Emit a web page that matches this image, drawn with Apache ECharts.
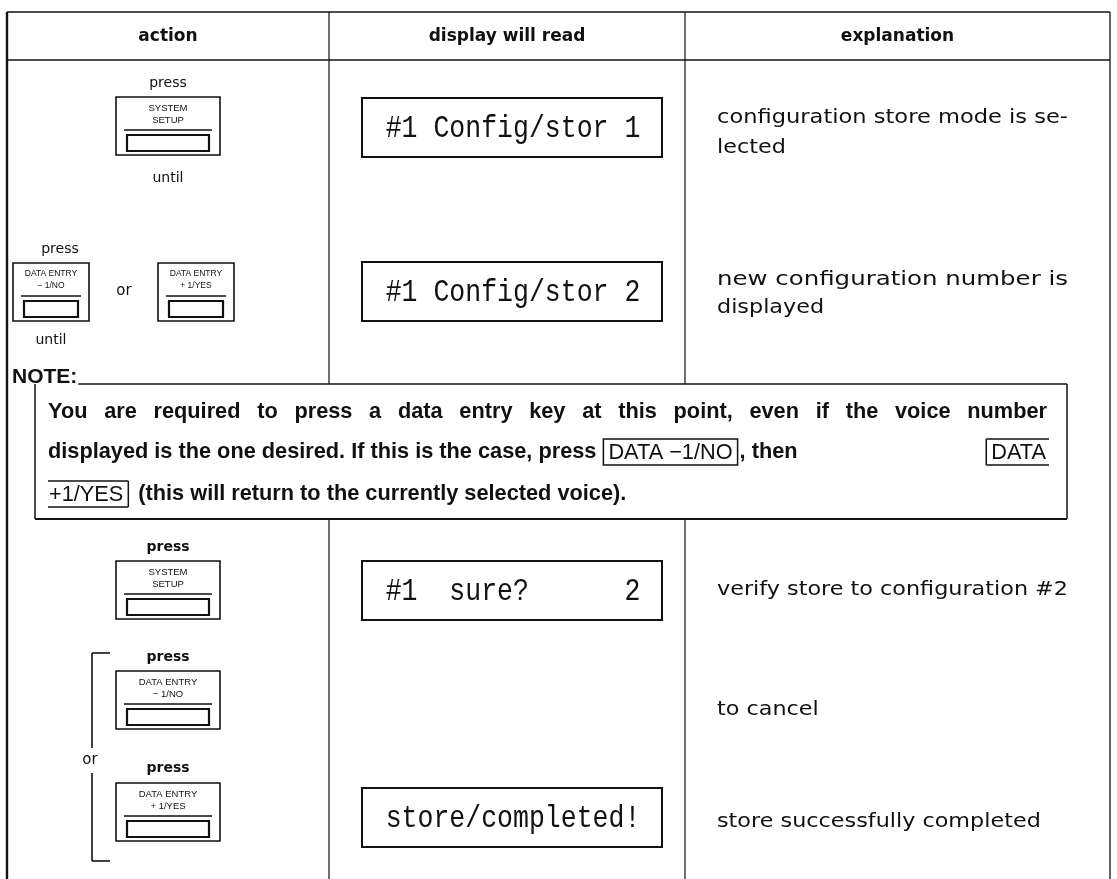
<!DOCTYPE html>
<html><head><meta charset="utf-8">
<script src="https://cdn.jsdelivr.net/npm/echarts@6/dist/echarts.min.js"></script>
<style>html,body{margin:0;padding:0;background:#fff}#c{width:1117px;height:879px}</style>
</head><body><div id="c"></div>
<script>
// ---- content (text data) ----
const headers = ['action', 'display will read', 'explanation'];
const pressWord = 'press';
const untilWord = 'until';
const orWord = 'or';
const keySetup = ['SYSTEM', 'SETUP'];
const keyMinus = ['DATA ENTRY', '\u2212 1/NO'];
const keyPlus = ['DATA ENTRY', '+ 1/YES'];
const displays = ['#1 Config/stor 1', '#1 Config/stor 2', '#1  sure?      2', 'store/completed!'];
const explanations = [
  ['configuration store mode is se-', 'lected'],
  ['new configuration number is', 'displayed'],
  ['verify store to configuration #2'],
  ['to cancel'],
  ['store successfully completed']
];
const justifiedFirst = [true, true, false, false, false];
const noteTitle = 'NOTE:';
const noteLine1 = 'You are required to press a data entry key at this point, even if the voice number';
const noteLine2a = 'displayed is the one desired. If this is the case, press';
const noteKey1 = 'DATA \u22121/NO';
const noteLine2b = ', then';
const noteKey2a = 'DATA';
const noteKey2b = '+1/YES';
const noteLine3 = '(this will return to the currently selected voice).';

// ---- layout ----
const L = 7, R = 1110, T = 12, B = 879, HY = 60, D1 = 329, D2 = 685;
const NL = 35, NR = 1067, NT = 384, NB = 519;
const ink = '#111';
const els = [];
const mctx = document.createElement('canvas').getContext('2d');
function tw(t, font) { mctx.font = font; return mctx.measureText(t).width; }
function line(x1, y1, x2, y2, lw) {
  els.push({type: 'line', silent: true, shape: {x1, y1, x2, y2}, style: {stroke: ink, lineWidth: lw || 1.3}});
}
function rect(x, y, w, h, lw) {
  els.push({type: 'rect', silent: true, shape: {x, y, width: w, height: h}, style: {fill: 'none', stroke: ink, lineWidth: lw || 1.5}});
}
function text(t, x, y, font, align, sx, sy) {
  els.push({type: 'text', silent: true, x: x, y: y, scaleX: sx || 1, scaleY: sy || 1,
    style: {text: t, font: font, fill: ink, textAlign: align || 'left', textVerticalAlign: 'middle', align: align || 'left', verticalAlign: 'middle'}});
}

// frame
line(L, T, R, T, 1.5);
line(L, HY, R, HY, 1.6);
line(L, T, L, B, 2.4);
line(R, T, R, B, 1.3);
line(D1, T, D1, NT, 1.2); line(D1, NB, D1, B, 1.2);
line(D2, T, D2, NT, 1.2); line(D2, NB, D2, B, 1.2);

// headers
const hFont = 'bold 17px "DejaVu Sans"';
const hx = [(L + D1) / 2, (D1 + D2) / 2, (D2 + R) / 2];
headers.forEach((h, i) => text(h, hx[i], 37, hFont, 'center'));

// key buttons
function keyButton(cx, top, w, labels, fs) {
  const h = 58;
  rect(cx - w / 2, top, w, h, 1.6);
  const f = fs + 'px "Liberation Sans"';
  text(labels[0], cx, top + 11, f, 'center');
  text(labels[1], cx, top + 23, f, 'center');
  line(cx - w / 2 + 8, top + 33, cx + w / 2 - 8, top + 33, 1.6);
  rect(cx - w / 2 + 11, top + 38, w - 22, 16, 2.2);
}
const smallFont = '14px "DejaVu Sans"';
const ac = (L + D1) / 2;
// row 1
text(pressWord, ac, 83, smallFont, 'center');
keyButton(ac, 97, 104, keySetup, 9.5);
text(untilWord, ac, 178, smallFont, 'center');
// row 2
text(pressWord, 60, 249, smallFont, 'center');
keyButton(51, 263, 76, keyMinus, 8.5);
text(orWord, 124, 291, '15px "DejaVu Sans"', 'center');
keyButton(196, 263, 76, keyPlus, 8.5);
text(untilWord, 51, 340, smallFont, 'center');
// row 3
text(pressWord, ac, 547, 'bold 14px "DejaVu Sans"', 'center');
keyButton(ac, 561, 104, keySetup, 9.5);
// row 4
text(pressWord, ac, 657, 'bold 14px "DejaVu Sans"', 'center');
keyButton(ac, 671, 104, keyMinus, 9.5);
// row 5
text(pressWord, ac, 768, 'bold 14px "DejaVu Sans"', 'center');
keyButton(ac, 783, 104, keyPlus, 9.5);
// bracket with "or"
line(92, 653, 110, 653, 1.6);
line(92, 653, 92, 748, 1.6);
line(92, 773, 92, 861, 1.6);
line(92, 861, 110, 861, 1.6);
text(orWord, 90, 760, '15px "DejaVu Sans"', 'center');

// displays
const dispTop = [98, 262, 561, 788];
const dispFont = '26px "Liberation Mono"';
const dx = 362, dw = 300, dh = 59;
displays.forEach((d, i) => {
  rect(dx, dispTop[i], dw, dh, 2);
  text(d, dx + dw / 2 + 1, dispTop[i] + dh / 2 + 1, dispFont, 'center', 1.02, 1.18);
});

// explanations
const eFont = '19px "DejaVu Sans"';
const eX = 717, eW = 351;
const sxE = eW / tw(explanations[2][0], eFont);
const eY = [[118, 148], [280, 308], [590], [710], [822]];
explanations.forEach((lines, i) => {
  lines.forEach((t, j) => {
    const sx = (j === 0 && justifiedFirst[i]) ? eW / tw(t, eFont) : sxE;
    text(t, eX, eY[i][j], eFont, 'left', sx);
  });
});

// note
const tFont = 'bold 21px "Liberation Sans"';
text(noteTitle, 12, 377, tFont, 'left');
const titleEnd = 12 + tw(noteTitle, tFont);
line(titleEnd + 1, NT, NR, NT, 1.5);
line(NL, NT, NL, NB, 1.5);
line(NR, NT, NR, NB, 1.5);
line(NL, NB, NR, NB, 1.8);

const base = 'bold 20px "Liberation Sans"';
const nfs = 20 * 488 / tw(noteLine3, base);
const nFont = 'bold ' + nfs.toFixed(2) + 'px "Liberation Sans"';
const kFont = nfs.toFixed(2) + 'px "Liberation Sans"';
const NX0 = 48, NX1 = 1047;
const ny = [412, 452, 494];
// line 1: justified by word spacing
const words1 = noteLine1.split(' ');
const ww = words1.map(w => tw(w, nFont));
const wsum = ww.reduce((a, b) => a + b, 0);
const wgap = (NX1 - NX0 - wsum) / (words1.length - 1);
let px = NX0;
words1.forEach((w, i) => { text(w, px, ny[0], nFont, 'left'); px += ww[i] + wgap; });
// line 2
const wA = tw(noteLine2a, nFont);
const wK1 = tw(noteKey1, kFont) + 10;
const wB = tw(noteLine2b, nFont);
const wK2 = tw(noteKey2a, kFont) + 8;
let cx = NX0;
text(noteLine2a, cx, ny[1], nFont, 'left'); cx += wA + 7;
rect(cx, ny[1] - 13, wK1, 26, 1.5);
text(noteKey1, cx + 5, ny[1] + 1, kFont, 'left'); cx += wK1 + 2;
text(noteLine2b, cx, ny[1], nFont, 'left');
cx = NX1 + 2 - wK2;
line(cx, ny[1] - 13, NX1 + 2, ny[1] - 13, 1.5);
line(cx, ny[1] - 13, cx, ny[1] + 13, 1.5);
line(cx, ny[1] + 13, NX1 + 2, ny[1] + 13, 1.5);
text(noteKey2a, cx + 5, ny[1] + 1, kFont, 'left');
// line 3
const wK3 = tw(noteKey2b, kFont) + 6;
line(NX0, ny[2] - 13, NX0 + wK3, ny[2] - 13, 1.5);
line(NX0 + wK3, ny[2] - 13, NX0 + wK3, ny[2] + 13, 1.5);
line(NX0, ny[2] + 13, NX0 + wK3, ny[2] + 13, 1.5);
text(noteKey2b, NX0 + 1, ny[2] + 1, kFont, 'left');
text(noteLine3, NX0 + wK3 + 10, ny[2], nFont, 'left');

const chart = echarts.init(document.getElementById('c'), null, {renderer: 'canvas'});
chart.setOption({backgroundColor: '#fff', animation: false, graphic: {elements: els}});
</script>
</body></html>
